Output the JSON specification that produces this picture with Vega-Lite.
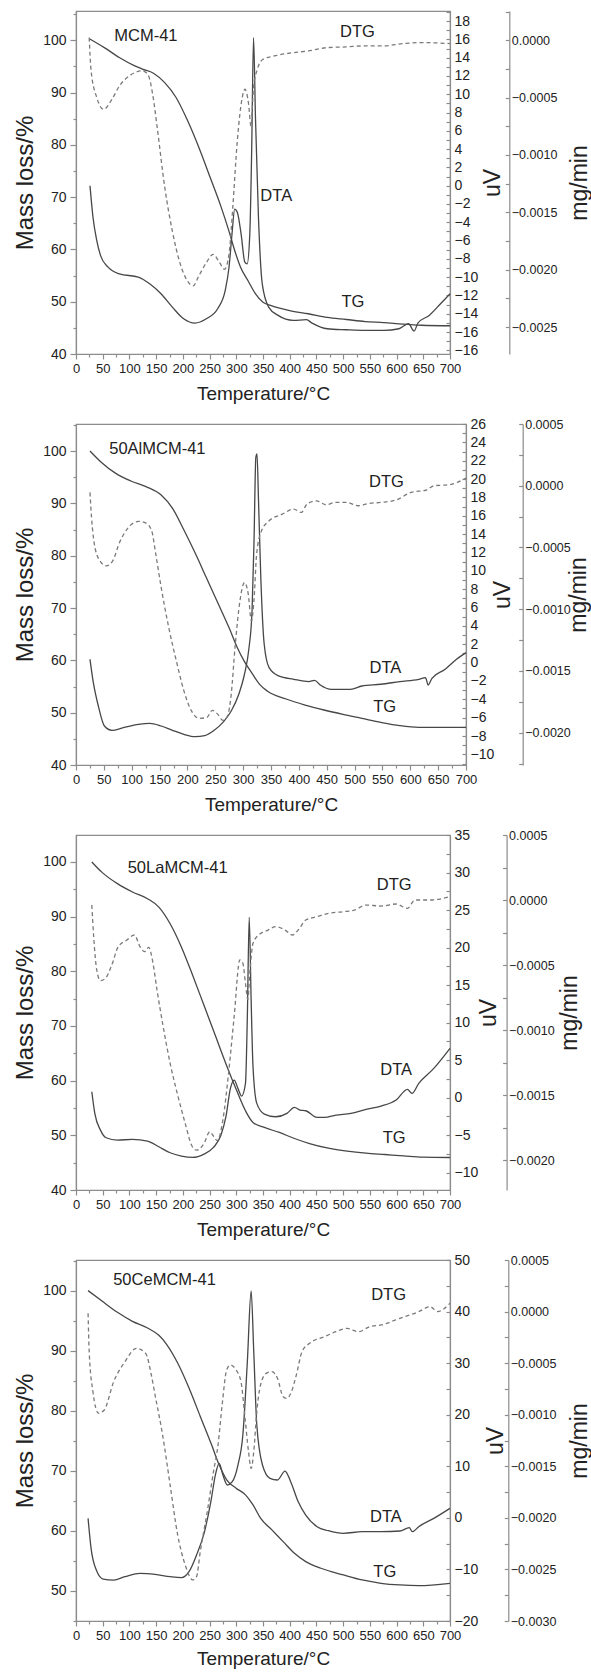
{
"$schema":"https://vega.github.io/schema/vega-lite/v6.json",
"padding":{"top":10,"left":12,"right":0,"bottom":0},
"background":"white",
"spacing":70,
"bounds":"flush",
"config":{
 "view":{"stroke":"#8c8c8c","strokeWidth":1.2},
 "axis":{"domainColor":"#8c8c8c","tickColor":"#8c8c8c","domainWidth":1.2,"tickWidth":1.2,"labelColor":"#222","titleColor":"#222","labelFont":"Liberation Sans","titleFont":"Liberation Sans","titleFontWeight":"normal","grid":false,"labelFontSize":13,"titleFontSize":19,"labelFlush":false,"labelOverlap":false,"labelBound":false},
 "text":{"font":"Liberation Sans"}
},
"datasets":{
"p1tg":[{"t":25,"v":100.3},{"t":53,"v":98.6},{"t":81,"v":96.7},{"t":110,"v":95.1},{"t":124,"v":94.5},{"t":145,"v":93.7},{"t":166,"v":91.9},{"t":187,"v":89.1},{"t":209,"v":84.6},{"t":230,"v":79.5},{"t":251,"v":73.8},{"t":272,"v":68.0},{"t":286,"v":63.6},{"t":297,"v":59.8},{"t":308,"v":56.6},{"t":322,"v":54.0},{"t":336,"v":51.5},{"t":350,"v":49.9},{"t":364,"v":49.3},{"t":400,"v":48.3},{"t":435,"v":47.7},{"t":470,"v":47.0},{"t":506,"v":46.6},{"t":541,"v":46.2},{"t":576,"v":46.0},{"t":612,"v":45.7},{"t":647,"v":45.5},{"t":700,"v":45.4}],
"p1dta":[{"t":26.2,"v":0},{"t":31.8,"v":-3.45},{"t":38.9,"v":-6.0},{"t":46,"v":-7.64},{"t":60.1,"v":-8.91},{"t":81.3,"v":-9.64},{"t":116.7,"v":-10.0},{"t":137.9,"v":-10.73},{"t":159.1,"v":-11.82},{"t":180.3,"v":-13.27},{"t":201.5,"v":-14.55},{"t":222.7,"v":-15.02},{"t":243.9,"v":-14.55},{"t":265.1,"v":-13.45},{"t":279.3,"v":-11.45},{"t":286.4,"v":-8.91},{"t":292,"v":-5.27},{"t":297,"v":-2.55},{"t":301.9,"v":-2.91},{"t":309,"v":-5.27},{"t":316,"v":-8.36},{"t":320.3,"v":-8.55},{"t":325.3,"v":-5.27},{"t":328.8,"v":3.82},{"t":332.3,"v":16.18},{"t":335.9,"v":7.45},{"t":341.5,"v":-3.45},{"t":348.6,"v":-10.73},{"t":360.6,"v":-13.27},{"t":378.3,"v":-14.18},{"t":406.6,"v":-14.73},{"t":431.3,"v":-14.65},{"t":441.9,"v":-15.02},{"t":470.2,"v":-15.64},{"t":505.6,"v":-15.75},{"t":540.9,"v":-15.82},{"t":576.3,"v":-15.82},{"t":604.5,"v":-15.64},{"t":622.2,"v":-15.09},{"t":632.8,"v":-15.89},{"t":639.9,"v":-15.02},{"t":661.1,"v":-14.18},{"t":682.3,"v":-12.91},{"t":700,"v":-11.82}],
"p1dtg":[{"t":24.7,"v":0.0000233},{"t":28.3,"v":-0.000267},{"t":38.9,"v":-0.0005},{"t":51.6,"v":-0.000602},{"t":67.2,"v":-0.000515},{"t":81.3,"v":-0.000398},{"t":102.5,"v":-0.000302},{"t":123.7,"v":-0.000267},{"t":134.3,"v":-0.000297},{"t":143.5,"v":-0.000471},{"t":152,"v":-0.000762},{"t":166.2,"v":-0.001285},{"t":180.3,"v":-0.001663},{"t":194.4,"v":-0.001939},{"t":208.6,"v":-0.002099},{"t":219.2,"v":-0.002142},{"t":229.8,"v":-0.002055},{"t":243.9,"v":-0.001939},{"t":256.7,"v":-0.001866},{"t":268.7,"v":-0.001939},{"t":277.9,"v":-0.001997},{"t":286.4,"v":-0.001866},{"t":293.4,"v":-0.001459},{"t":301.9,"v":-0.000878},{"t":311.1,"v":-0.0005},{"t":316,"v":-0.000427},{"t":323.1,"v":-0.000558},{"t":327.4,"v":-0.000747},{"t":332.3,"v":-0.000413},{"t":339.4,"v":-0.000253},{"t":350,"v":-0.000166},{"t":371.2,"v":-0.000137},{"t":406.6,"v":-0.000108},{"t":434.8,"v":-0.000093},{"t":470.2,"v":-0.000064},{"t":505.6,"v":-0.000058},{"t":541,"v":-0.000049},{"t":576.3,"v":-0.000049},{"t":611.6,"v":-0.000029},{"t":647,"v":-0.00002},{"t":700,"v":-0.000029}],
"p1lab":[{"t":130.8,"v":100.9,"label":"MCM-41"},{"t":526.8,"v":101.5,"label":"DTG"},{"t":374.8,"v":70.3,"label":"DTA"},{"t":518.3,"v":49.9,"label":"TG"}],
"p2tg":[{"t":25.1,"v":100},{"t":44.2,"v":97.96},{"t":71.4,"v":95.73},{"t":98.5,"v":94.27},{"t":125.7,"v":93.18},{"t":152.9,"v":91.59},{"t":173.3,"v":89.04},{"t":193.7,"v":84.9},{"t":214.1,"v":80.45},{"t":234.5,"v":75.67},{"t":254.9,"v":70.89},{"t":275.2,"v":66.11},{"t":288.8,"v":62.61},{"t":302.4,"v":59.75},{"t":316,"v":57.52},{"t":329.6,"v":55.41},{"t":343.2,"v":54.14},{"t":377.2,"v":52.61},{"t":411.2,"v":51.46},{"t":445.2,"v":50.51},{"t":479.1,"v":49.68},{"t":513.1,"v":48.92},{"t":547.1,"v":48.15},{"t":581.1,"v":47.52},{"t":615.1,"v":47.2},{"t":649,"v":47.2},{"t":700,"v":47.2}],
"p2dta":[{"t":25.1,"v":0.36},{"t":30.6,"v":-2.0},{"t":40.8,"v":-4.91},{"t":51,"v":-6.91},{"t":64.6,"v":-7.38},{"t":85,"v":-7.09},{"t":112.1,"v":-6.73},{"t":132.5,"v":-6.62},{"t":152.9,"v":-6.91},{"t":173.3,"v":-7.38},{"t":193.7,"v":-7.82},{"t":214.1,"v":-8.07},{"t":231.1,"v":-7.96},{"t":248.1,"v":-7.38},{"t":265,"v":-6.44},{"t":278.6,"v":-5.27},{"t":292.2,"v":-3.45},{"t":302.4,"v":-1.27},{"t":310.6,"v":1.64},{"t":316,"v":5.64},{"t":319.4,"v":12.91},{"t":322.8,"v":22.36},{"t":324.9,"v":22.73},{"t":327.6,"v":17.64},{"t":331.7,"v":9.27},{"t":337.8,"v":2.0},{"t":346.6,"v":-0.55},{"t":363.6,"v":-1.45},{"t":390.8,"v":-1.82},{"t":418,"v":-2.07},{"t":428.2,"v":-1.93},{"t":438.4,"v":-2.44},{"t":458.7,"v":-2.91},{"t":492.7,"v":-2.91},{"t":513.1,"v":-2.55},{"t":547.1,"v":-2.36},{"t":581.1,"v":-2.07},{"t":615.1,"v":-1.82},{"t":627.3,"v":-1.64},{"t":632.1,"v":-2.44},{"t":638.9,"v":-1.71},{"t":662.6,"v":-0.73},{"t":683,"v":0.36},{"t":700,"v":1.09}],
"p2dtg":[{"t":25.1,"v":-0.000054},{"t":27.9,"v":-0.000257},{"t":34,"v":-0.0005},{"t":44.2,"v":-0.000616},{"t":54.4,"v":-0.000649},{"t":65.9,"v":-0.000608},{"t":78.2,"v":-0.000459},{"t":91.7,"v":-0.000351},{"t":112.1,"v":-0.000289},{"t":125.7,"v":-0.000303},{"t":135.9,"v":-0.000365},{"t":142.7,"v":-0.000541},{"t":152.9,"v":-0.000824},{"t":166.5,"v":-0.001149},{"t":180.1,"v":-0.001419},{"t":193.7,"v":-0.001662},{"t":207.3,"v":-0.001824},{"t":220.9,"v":-0.001884},{"t":234.5,"v":-0.001878},{"t":244.7,"v":-0.001819},{"t":253.5,"v":-0.001846},{"t":263.7,"v":-0.0019},{"t":271.8,"v":-0.001865},{"t":278.6,"v":-0.001689},{"t":285.4,"v":-0.001311},{"t":294.3,"v":-0.000932},{"t":302.4,"v":-0.000784},{"t":309.2,"v":-0.000878},{"t":314.7,"v":-0.001095},{"t":319.4,"v":-0.000932},{"t":324.2,"v":-0.000554},{"t":333,"v":-0.000365},{"t":346.6,"v":-0.000284},{"t":370.4,"v":-0.00023},{"t":390.8,"v":-0.000189},{"t":404.4,"v":-0.000216},{"t":414.6,"v":-0.000149},{"t":431.6,"v":-0.000122},{"t":448.6,"v":-0.000154},{"t":465.5,"v":-0.000135},{"t":485.9,"v":-0.000135},{"t":506.3,"v":-0.000162},{"t":526.7,"v":-0.000143},{"t":547.1,"v":-0.000135},{"t":574.3,"v":-0.000116},{"t":601.5,"v":-0.000054},{"t":628.7,"v":-0.000035},{"t":642.3,"v":0},{"t":669.4,"v":0.000008},{"t":700,"v":0.000062}],
"p2lab":[{"t":146.1,"v":100.4,"label":"50AlMCM-41"},{"t":557.3,"v":94.1,"label":"DTG"},{"t":555.3,"v":58.6,"label":"DTA"},{"t":553.9,"v":51.1,"label":"TG"}],
"p3tg":[{"t":29.6,"v":100},{"t":49.3,"v":98.05},{"t":77.5,"v":96.03},{"t":105.7,"v":94.5},{"t":133.9,"v":93.28},{"t":155.1,"v":91.75},{"t":176.2,"v":88.7},{"t":197.4,"v":84.42},{"t":218.5,"v":79.23},{"t":239.7,"v":73.73},{"t":260.8,"v":68.24},{"t":282,"v":62.74},{"t":299.6,"v":58.46},{"t":317.2,"v":54.49},{"t":331.3,"v":52.35},{"t":352.5,"v":51.44},{"t":380.7,"v":50.52},{"t":408.9,"v":49.42},{"t":437.1,"v":48.5},{"t":472.3,"v":47.65},{"t":507.5,"v":47.1},{"t":542.8,"v":46.73},{"t":578,"v":46.49},{"t":613.3,"v":46.24},{"t":648.5,"v":46.0},{"t":700,"v":45.94}],
"p3dta":[{"t":29.6,"v":0.79},{"t":35.2,"v":-2.09},{"t":45.8,"v":-4.32},{"t":56.4,"v":-5.34},{"t":77.5,"v":-5.65},{"t":105.7,"v":-5.56},{"t":133.9,"v":-5.78},{"t":155.1,"v":-6.54},{"t":176.2,"v":-7.34},{"t":197.4,"v":-7.78},{"t":218.5,"v":-7.96},{"t":239.7,"v":-7.51},{"t":257.3,"v":-6.63},{"t":271.4,"v":-4.98},{"t":280.6,"v":-2.54},{"t":289,"v":1.24},{"t":296,"v":2.35},{"t":303.1,"v":1.24},{"t":310.1,"v":0.22},{"t":317.2,"v":1.9},{"t":320.7,"v":10.79},{"t":324.2,"v":24.03},{"t":327.8,"v":13.0},{"t":331.3,"v":4.12},{"t":338.4,"v":-0.76},{"t":352.5,"v":-2.18},{"t":373.6,"v":-2.54},{"t":394.8,"v":-2.09},{"t":408.9,"v":-1.29},{"t":419.4,"v":-1.65},{"t":430,"v":-1.74},{"t":451.2,"v":-2.63},{"t":465.2,"v":-2.63},{"t":486.4,"v":-2.32},{"t":514.6,"v":-2.09},{"t":542.8,"v":-1.56},{"t":571,"v":-1.12},{"t":599.2,"v":-0.32},{"t":620.3,"v":1.1},{"t":628.8,"v":0.57},{"t":641.5,"v":1.9},{"t":669.7,"v":3.9},{"t":700,"v":6.57}],
"p3dtg":[{"t":29.6,"v":-0.0000385},{"t":33.1,"v":-0.000282},{"t":38.8,"v":-0.000538},{"t":45.8,"v":-0.00062},{"t":55,"v":-0.000603},{"t":67,"v":-0.0005},{"t":79,"v":-0.000359},{"t":95.2,"v":-0.000308},{"t":109.3,"v":-0.000269},{"t":119.8,"v":-0.000359},{"t":128.3,"v":-0.000397},{"t":136,"v":-0.000364},{"t":143.1,"v":-0.000462},{"t":151.6,"v":-0.000692},{"t":162.1,"v":-0.000949},{"t":176.2,"v":-0.001256},{"t":190.3,"v":-0.0015},{"t":204.4,"v":-0.001718},{"t":217.1,"v":-0.001892},{"t":225.6,"v":-0.001923},{"t":239.7,"v":-0.001872},{"t":250.2,"v":-0.001782},{"t":257.3,"v":-0.001815},{"t":264.3,"v":-0.001851},{"t":274.9,"v":-0.001692},{"t":285.5,"v":-0.001333},{"t":296,"v":-0.000897},{"t":306.6,"v":-0.000461},{"t":312.3,"v":-0.000487},{"t":317.2,"v":-0.000641},{"t":321.5,"v":-0.000764},{"t":325.7,"v":-0.000538},{"t":331.3,"v":-0.000333},{"t":341.9,"v":-0.000269},{"t":359.5,"v":-0.000231},{"t":373.6,"v":-0.000205},{"t":391.2,"v":-0.000231},{"t":405.3,"v":-0.000269},{"t":415.9,"v":-0.000231},{"t":430,"v":-0.000154},{"t":451.2,"v":-0.000128},{"t":472.3,"v":-0.000103},{"t":500.5,"v":-0.0000897},{"t":521.6,"v":-0.0000769},{"t":542.8,"v":-0.0000385},{"t":571,"v":-0.0000462},{"t":599.2,"v":-0.0000308},{"t":620.3,"v":-0.0000641},{"t":634.4,"v":0},{"t":662.6,"v":0},{"t":700,"v":0.0000256}],
"p3lab":[{"t":190.3,"v":98.9,"label":"50LaMCM-41"},{"t":595.6,"v":95.8,"label":"DTG"},{"t":599.2,"v":62.0,"label":"DTA"},{"t":595.6,"v":49.5,"label":"TG"}],
"p4tg":[{"t":22.6,"v":100},{"t":49.3,"v":98.22},{"t":77.5,"v":96.39},{"t":105.7,"v":94.89},{"t":133.9,"v":93.78},{"t":155.1,"v":92.56},{"t":169.2,"v":91.11},{"t":190.3,"v":87.94},{"t":211.5,"v":83.78},{"t":232.6,"v":79.06},{"t":253.8,"v":74.33},{"t":267.9,"v":71.0},{"t":282,"v":68.5},{"t":299.6,"v":67.11},{"t":317.2,"v":66.0},{"t":331.3,"v":64.33},{"t":345.4,"v":62.11},{"t":366.6,"v":60.17},{"t":387.7,"v":58.22},{"t":408.9,"v":56.28},{"t":430,"v":54.89},{"t":458.2,"v":53.78},{"t":500.5,"v":52.67},{"t":535.7,"v":51.83},{"t":571,"v":51.28},{"t":606.2,"v":51.0},{"t":641.5,"v":50.89},{"t":700,"v":51.28}],
"p4dta":[{"t":22.6,"v":-0.1},{"t":28.2,"v":-5.91},{"t":38.8,"v":-10.31},{"t":50.8,"v":-11.86},{"t":70.5,"v":-12.06},{"t":91.6,"v":-11.41},{"t":119.8,"v":-10.76},{"t":148,"v":-10.96},{"t":176.2,"v":-11.41},{"t":197.4,"v":-11.6},{"t":211.5,"v":-10.44},{"t":225.6,"v":-7.21},{"t":239.7,"v":-3.0},{"t":252.4,"v":3.13},{"t":260.8,"v":8.3},{"t":267.9,"v":10.57},{"t":275,"v":8.3},{"t":283.4,"v":6.37},{"t":292.5,"v":7.01},{"t":303.1,"v":10.24},{"t":312.3,"v":16.06},{"t":320.7,"v":30.28},{"t":327.8,"v":43.99},{"t":332.7,"v":32.22},{"t":338.4,"v":18.0},{"t":349,"v":10.24},{"t":363.1,"v":7.66},{"t":377.1,"v":7.34},{"t":391.2,"v":9.08},{"t":401.8,"v":7.01},{"t":415.9,"v":3.13},{"t":430,"v":0.55},{"t":451.2,"v":-1.71},{"t":472.3,"v":-2.49},{"t":500.5,"v":-3.0},{"t":535.7,"v":-2.68},{"t":571,"v":-2.68},{"t":606.2,"v":-2.55},{"t":623.8,"v":-1.91},{"t":629.5,"v":-2.68},{"t":641.5,"v":-1.71},{"t":669.7,"v":-0.1},{"t":700,"v":1.84}],
"p4dtg":[{"t":22.6,"v":-0.000017},{"t":24.7,"v":-0.000389},{"t":31.7,"v":-0.000777},{"t":42.3,"v":-0.000986},{"t":52.9,"v":-0.000954},{"t":70.5,"v":-0.00068},{"t":91.6,"v":-0.000486},{"t":112.8,"v":-0.000356},{"t":130.4,"v":-0.000405},{"t":141,"v":-0.000615},{"t":148,"v":-0.000809},{"t":162.1,"v":-0.001197},{"t":176.2,"v":-0.001682},{"t":190.3,"v":-0.002166},{"t":204.4,"v":-0.002457},{"t":218.5,"v":-0.002602},{"t":225.6,"v":-0.00257},{"t":232.6,"v":-0.002328},{"t":246.7,"v":-0.001908},{"t":257.3,"v":-0.001552},{"t":265.8,"v":-0.001294},{"t":273.5,"v":-0.000906},{"t":282,"v":-0.000566},{"t":289,"v":-0.000518},{"t":299.6,"v":-0.000566},{"t":308.8,"v":-0.00068},{"t":315.8,"v":-0.001003},{"t":322.9,"v":-0.001358},{"t":327.8,"v":-0.00152},{"t":332.7,"v":-0.001358},{"t":338.4,"v":-0.00097},{"t":345.4,"v":-0.000712},{"t":356,"v":-0.000599},{"t":366.6,"v":-0.000583},{"t":377.1,"v":-0.000647},{"t":387.7,"v":-0.000825},{"t":394.8,"v":-0.000841},{"t":403.2,"v":-0.000777},{"t":412.4,"v":-0.000615},{"t":423,"v":-0.000389},{"t":437.1,"v":-0.000308},{"t":465.3,"v":-0.000243},{"t":486.4,"v":-0.000195},{"t":507.5,"v":-0.000163},{"t":528.7,"v":-0.000195},{"t":549.8,"v":-0.000146},{"t":571,"v":-0.00013},{"t":606.2,"v":-0.0000655},{"t":641.5,"v":-0.000001},{"t":662.6,"v":0.0000477},{"t":676.7,"v":0},{"t":700,"v":0.0000808}],
"p4lab":[{"t":165.7,"v":101.7,"label":"50CeMCM-41"},{"t":585.1,"v":99.2,"label":"DTG"},{"t":580.1,"v":62.3,"label":"DTA"},{"t":578,"v":53.2,"label":"TG"}]
},
"vconcat":[
{
 "width":374,"height":343,
 "encoding":{"x":{"field":"t","type":"quantitative","scale":{"domain":[0,700],"nice":false,"zero":false},"axis":{"tickCount":200,"values":[0,25,50,75,100,125,150,175,200,225,250,275,300,325,350,375,400,425,450,475,500,525,550,575,600,625,650,675,700],"labelExpr":"datum.value % 50 == 0 ? format(datum.value, 'd') : ''","labelFontSize":{"condition":{"test":"datum.value % 50 == 0","value":13},"value":0},"tickSize":{"condition":{"test":"datum.value % 50 == 0","value":5},"value":3},"labelPadding":3,"title":"Temperature/°C","titleY":39,"titleBaseline":"middle"}}},
 "layer":[
  {"layer":[
   {"data":{"name":"p1tg"},"mark":{"type":"line","color":"#474747","strokeWidth":1.3,"interpolate":"monotone"},"encoding":{"y":{"field":"v","type":"quantitative","scale":{"domain":[40,105.6],"nice":false,"zero":false},"axis":{"tickCount":200,"values":[40,45,50,55,60,65,70,75,80,85,90,95,100,105],"labelExpr":"datum.value % 10 == 0 ? format(datum.value, 'd') : ''","labelFontSize":{"condition":{"test":"datum.value % 10 == 0","value":14},"value":0},"tickSize":{"condition":{"test":"datum.value % 10 == 0","value":6},"value":3},"labelPadding":4,"title":"Mass loss/%","titleAngle":270,"titleX":-51,"titleY":171.5,"titleAlign":"center","titleBaseline":"middle","titleFontSize":24}}}},
   {"data":{"name":"p1lab"},"mark":{"type":"text","fontSize":16.5,"color":"#222"},"encoding":{"y":{"field":"v","type":"quantitative"},"text":{"field":"label"}}}
  ]},
  {"data":{"name":"p1dta"},"mark":{"type":"line","color":"#474747","strokeWidth":1.3,"interpolate":"monotone"},"encoding":{"y":{"field":"v","type":"quantitative","scale":{"domain":[-18.4,19.1],"nice":false,"zero":false},"axis":{"orient":"right","tickCount":200,"values":[-18,-17,-16,-15,-14,-13,-12,-11,-10,-9,-8,-7,-6,-5,-4,-3,-2,-1,0,1,2,3,4,5,6,7,8,9,10,11,12,13,14,15,16,17,18,19],"labelExpr":"datum.value == -18 ? '−16' : (datum.value % 2 == 0 ? format(datum.value, 'd') : '')","labelFontSize":{"condition":{"test":"datum.value % 2 == 0","value":14},"value":0},"tickSize":-4,"labelPadding":8,"title":"uV","titleAngle":270,"titleX":42.5,"titleY":171.5,"titleAlign":"center","titleBaseline":"middle","titleFontSize":23}}}},
  {"data":{"name":"p1dtg"},"mark":{"type":"line","color":"#7a7a7a","strokeWidth":1.3,"strokeDash":[4,3],"interpolate":"monotone"},"encoding":{"y":{"field":"v","type":"quantitative","scale":{"domain":[-0.002735,0.000255],"nice":false,"zero":false},"axis":{"orient":"right","offset":59.3,"tickCount":200,"values":[-0.0025,-0.00225,-0.002,-0.00175,-0.0015,-0.00125,-0.001,-0.00075,-0.0005,-0.00025,0,0.00025],"labelExpr":"abs(round(datum.value*4000)) % 2 == 0 ? format(datum.value, '.4f') : ''","labelFontSize":{"condition":{"test":"abs(round(datum.value*4000)) % 2 == 0","value":12.5},"value":0},"tickSize":-4,"labelPadding":6,"title":"mg/min","titleAngle":270,"titleX":69.7,"titleY":171.5,"titleAlign":"center","titleBaseline":"middle","titleFontSize":23}}}}
 ],
 "resolve":{"scale":{"y":"independent"}}
},
{
 "width":390,"height":341,
 "encoding":{"x":{"field":"t","type":"quantitative","scale":{"domain":[0,700],"nice":false,"zero":false},"axis":{"tickCount":200,"values":[0,25,50,75,100,125,150,175,200,225,250,275,300,325,350,375,400,425,450,475,500,525,550,575,600,625,650,675,700],"labelExpr":"datum.value % 50 == 0 ? format(datum.value, 'd') : ''","labelFontSize":{"condition":{"test":"datum.value % 50 == 0","value":13},"value":0},"tickSize":{"condition":{"test":"datum.value % 50 == 0","value":5},"value":3},"labelPadding":3,"title":"Temperature/°C","titleY":39,"titleBaseline":"middle"}}},
 "layer":[
  {"layer":[
   {"data":{"name":"p2tg"},"mark":{"type":"line","color":"#474747","strokeWidth":1.3,"interpolate":"monotone"},"encoding":{"y":{"field":"v","type":"quantitative","scale":{"domain":[40,105.16],"nice":false,"zero":false},"axis":{"tickCount":200,"values":[40,45,50,55,60,65,70,75,80,85,90,95,100,105],"labelExpr":"datum.value % 10 == 0 ? format(datum.value, 'd') : ''","labelFontSize":{"condition":{"test":"datum.value % 10 == 0","value":14},"value":0},"tickSize":{"condition":{"test":"datum.value % 10 == 0","value":6},"value":3},"labelPadding":4,"title":"Mass loss/%","titleAngle":270,"titleX":-51,"titleY":170.5,"titleAlign":"center","titleBaseline":"middle","titleFontSize":24}}}},
   {"data":{"name":"p2lab"},"mark":{"type":"text","fontSize":16.5,"color":"#222"},"encoding":{"y":{"field":"v","type":"quantitative"},"text":{"field":"label"}}}
  ]},
  {"data":{"name":"p2dta"},"mark":{"type":"line","color":"#474747","strokeWidth":1.3,"interpolate":"monotone"},"encoding":{"y":{"field":"v","type":"quantitative","scale":{"domain":[-11.16,26],"nice":false,"zero":false},"axis":{"orient":"right","tickCount":200,"values":[-11,-10,-9,-8,-7,-6,-5,-4,-3,-2,-1,0,1,2,3,4,5,6,7,8,9,10,11,12,13,14,15,16,17,18,19,20,21,22,23,24,25,26],"labelExpr":"datum.value % 2 == 0 ? format(datum.value, 'd') : ''","labelFontSize":{"condition":{"test":"datum.value % 2 == 0","value":14},"value":0},"tickSize":-4,"labelPadding":8,"title":"uV","titleAngle":270,"titleX":36,"titleY":170.5,"titleAlign":"center","titleBaseline":"middle","titleFontSize":23}}}},
  {"data":{"name":"p2dtg"},"mark":{"type":"line","color":"#7a7a7a","strokeWidth":1.3,"strokeDash":[4,3],"interpolate":"monotone"},"encoding":{"y":{"field":"v","type":"quantitative","scale":{"domain":[-0.002262,0.0005],"nice":false,"zero":false},"axis":{"orient":"right","offset":56.7,"tickCount":200,"values":[-0.00225,-0.002,-0.00175,-0.0015,-0.00125,-0.001,-0.00075,-0.0005,-0.00025,0,0.00025,0.0005],"labelExpr":"abs(round(datum.value*4000)) % 2 == 0 ? format(datum.value, '.4f') : ''","labelFontSize":{"condition":{"test":"abs(round(datum.value*4000)) % 2 == 0","value":12.5},"value":0},"tickSize":-4,"labelPadding":6,"title":"mg/min","titleAngle":270,"titleX":56,"titleY":170.5,"titleAlign":"center","titleBaseline":"middle","titleFontSize":23}}}}
 ],
 "resolve":{"scale":{"y":"independent"}}
},
{
 "width":374,"height":355,
 "encoding":{"x":{"field":"t","type":"quantitative","scale":{"domain":[0,700],"nice":false,"zero":false},"axis":{"tickCount":200,"values":[0,25,50,75,100,125,150,175,200,225,250,275,300,325,350,375,400,425,450,475,500,525,550,575,600,625,650,675,700],"labelExpr":"datum.value % 50 == 0 ? format(datum.value, 'd') : ''","labelFontSize":{"condition":{"test":"datum.value % 50 == 0","value":13},"value":0},"tickSize":{"condition":{"test":"datum.value % 50 == 0","value":5},"value":3},"labelPadding":3,"title":"Temperature/°C","titleY":39,"titleBaseline":"middle"}}},
 "layer":[
  {"layer":[
   {"data":{"name":"p3tg"},"mark":{"type":"line","color":"#474747","strokeWidth":1.3,"interpolate":"monotone"},"encoding":{"y":{"field":"v","type":"quantitative","scale":{"domain":[40,104.93],"nice":false,"zero":false},"axis":{"tickCount":200,"values":[40,45,50,55,60,65,70,75,80,85,90,95,100],"labelExpr":"datum.value % 10 == 0 ? format(datum.value, 'd') : ''","labelFontSize":{"condition":{"test":"datum.value % 10 == 0","value":14},"value":0},"tickSize":{"condition":{"test":"datum.value % 10 == 0","value":6},"value":3},"labelPadding":4,"title":"Mass loss/%","titleAngle":270,"titleX":-51,"titleY":177.5,"titleAlign":"center","titleBaseline":"middle","titleFontSize":24}}}},
   {"data":{"name":"p3lab"},"mark":{"type":"text","fontSize":16.5,"color":"#222"},"encoding":{"y":{"field":"v","type":"quantitative"},"text":{"field":"label"}}}
  ]},
  {"data":{"name":"p3dta"},"mark":{"type":"line","color":"#474747","strokeWidth":1.3,"interpolate":"monotone"},"encoding":{"y":{"field":"v","type":"quantitative","scale":{"domain":[-12.3,35],"nice":false,"zero":false},"axis":{"orient":"right","tickCount":200,"values":[-10,-7.5,-5,-2.5,0,2.5,5,7.5,10,12.5,15,17.5,20,22.5,25,27.5,30,32.5,35],"labelExpr":"datum.value % 5 == 0 ? format(datum.value, 'd') : ''","labelFontSize":{"condition":{"test":"datum.value % 5 == 0","value":14},"value":0},"tickSize":-4,"labelPadding":8,"title":"uV","titleAngle":270,"titleX":38,"titleY":177.5,"titleAlign":"center","titleBaseline":"middle","titleFontSize":23}}}},
  {"data":{"name":"p3dtg"},"mark":{"type":"line","color":"#7a7a7a","strokeWidth":1.3,"strokeDash":[4,3],"interpolate":"monotone"},"encoding":{"y":{"field":"v","type":"quantitative","scale":{"domain":[-0.00223,0.0005],"nice":false,"zero":false},"axis":{"orient":"right","offset":56.6,"tickCount":200,"values":[-0.002,-0.00175,-0.0015,-0.00125,-0.001,-0.00075,-0.0005,-0.00025,0,0.00025,0.0005],"labelExpr":"abs(round(datum.value*4000)) % 2 == 0 ? format(datum.value, '.4f') : ''","labelFontSize":{"condition":{"test":"abs(round(datum.value*4000)) % 2 == 0","value":12.5},"value":0},"tickSize":-4,"labelPadding":6,"title":"mg/min","titleAngle":270,"titleX":63,"titleY":177.5,"titleAlign":"center","titleBaseline":"middle","titleFontSize":23}}}}
 ],
 "resolve":{"scale":{"y":"independent"}}
},
{
 "width":374,"height":361,
 "encoding":{"x":{"field":"t","type":"quantitative","scale":{"domain":[0,700],"nice":false,"zero":false},"axis":{"tickCount":200,"values":[0,25,50,75,100,125,150,175,200,225,250,275,300,325,350,375,400,425,450,475,500,525,550,575,600,625,650,675,700],"labelExpr":"datum.value % 50 == 0 ? format(datum.value, 'd') : ''","labelFontSize":{"condition":{"test":"datum.value % 50 == 0","value":13},"value":0},"tickSize":{"condition":{"test":"datum.value % 50 == 0","value":5},"value":3},"labelPadding":3,"title":"Temperature/°C","titleY":37,"titleBaseline":"middle"}}},
 "layer":[
  {"layer":[
   {"data":{"name":"p4tg"},"mark":{"type":"line","color":"#474747","strokeWidth":1.3,"interpolate":"monotone"},"encoding":{"y":{"field":"v","type":"quantitative","scale":{"domain":[45,105.1],"nice":false,"zero":false},"axis":{"tickCount":200,"values":[45,50,55,60,65,70,75,80,85,90,95,100,105],"labelExpr":"datum.value % 10 == 0 ? format(datum.value, 'd') : ''","labelFontSize":{"condition":{"test":"datum.value % 10 == 0","value":14},"value":0},"tickSize":{"condition":{"test":"datum.value % 10 == 0","value":6},"value":3},"labelPadding":4,"title":"Mass loss/%","titleAngle":270,"titleX":-51,"titleY":180.5,"titleAlign":"center","titleBaseline":"middle","titleFontSize":24}}}},
   {"data":{"name":"p4lab"},"mark":{"type":"text","fontSize":16.5,"color":"#222"},"encoding":{"y":{"field":"v","type":"quantitative"},"text":{"field":"label"}}}
  ]},
  {"data":{"name":"p4dta"},"mark":{"type":"line","color":"#474747","strokeWidth":1.3,"interpolate":"monotone"},"encoding":{"y":{"field":"v","type":"quantitative","scale":{"domain":[-20,50],"nice":false,"zero":false},"axis":{"orient":"right","tickCount":200,"values":[-20,-15,-10,-5,0,5,10,15,20,25,30,35,40,45,50],"labelExpr":"datum.value % 10 == 0 ? format(datum.value, 'd') : ''","labelFontSize":{"condition":{"test":"datum.value % 10 == 0","value":14},"value":0},"tickSize":-4,"labelPadding":8,"title":"uV","titleAngle":270,"titleX":45,"titleY":180.5,"titleAlign":"center","titleBaseline":"middle","titleFontSize":23}}}},
  {"data":{"name":"p4dtg"},"mark":{"type":"line","color":"#7a7a7a","strokeWidth":1.3,"strokeDash":[4,3],"interpolate":"monotone"},"encoding":{"y":{"field":"v","type":"quantitative","scale":{"domain":[-0.003,0.0005],"nice":false,"zero":false},"axis":{"orient":"right","offset":58.3,"tickCount":200,"values":[-0.003,-0.00275,-0.0025,-0.00225,-0.002,-0.00175,-0.0015,-0.00125,-0.001,-0.00075,-0.0005,-0.00025,0,0.00025,0.0005],"labelExpr":"abs(round(datum.value*4000)) % 2 == 0 ? format(datum.value, '.4f') : ''","labelFontSize":{"condition":{"test":"abs(round(datum.value*4000)) % 2 == 0","value":12.5},"value":0},"tickSize":-4,"labelPadding":6,"title":"mg/min","titleAngle":270,"titleX":71,"titleY":180.5,"titleAlign":"center","titleBaseline":"middle","titleFontSize":23}}}}
 ],
 "resolve":{"scale":{"y":"independent"}}
}
]
}
